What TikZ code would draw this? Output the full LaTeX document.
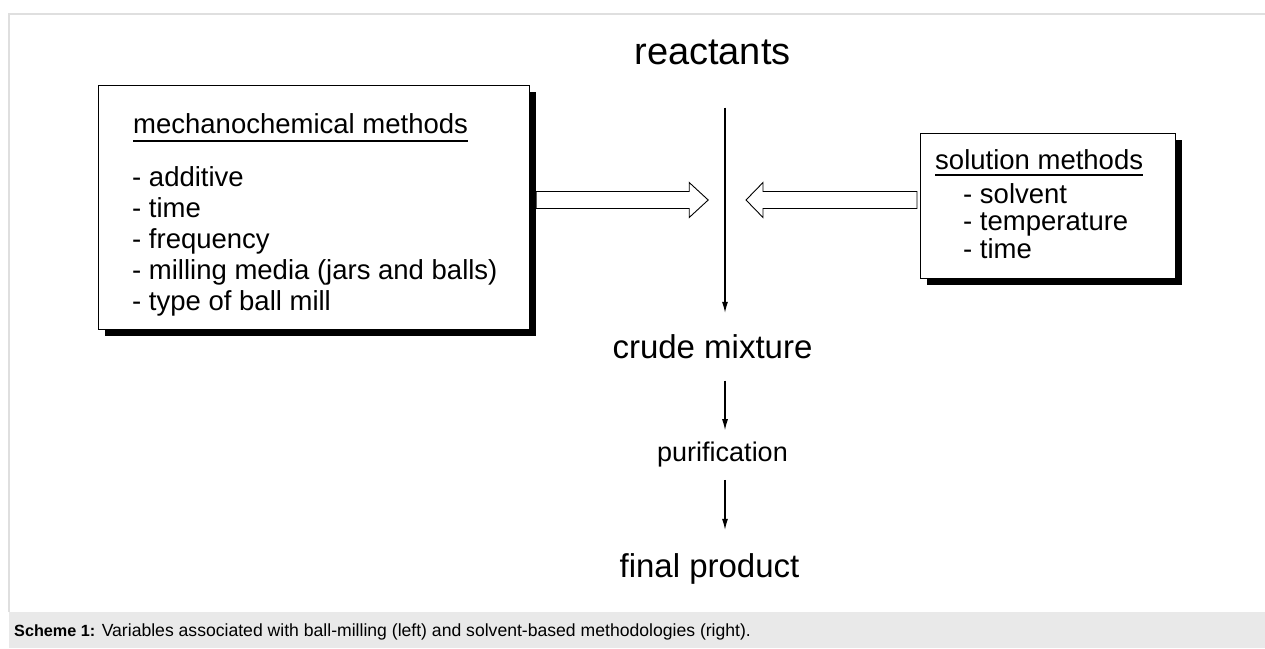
\documentclass[tikz,border=0pt]{standalone}
\usepackage{fontspec}
\setmainfont{Liberation Sans}
\usetikzlibrary{arrows.meta,calc,shadows}

\begin{document}
\begin{tikzpicture}[x=1pt, y=-1pt,
	big/.style={inner sep=0, anchor=base, font=\fontsize{33}{38}\selectfont},
	boxtext/.style={inner sep=0, anchor=base west, font=\fontsize{27.5}{31}\selectfont},
	varbox/.style={draw, line width=1.2pt, fill=white, inner sep=0, anchor=north west,
		drop shadow={shadow xshift=6pt, shadow yshift=-6pt, fill=black, opacity=1}},
	flow/.style={line width=1.2pt, -{Latex[length=11pt,width=6pt]}},
	fat/.style={draw, line width=0.9pt, fill=white, line join=miter}]

	\useasboundingbox (0,0) rectangle (1265,648);
	\fill[gray!17] (9,612) rectangle (1265,648);
	\draw[gray!25, line width=1.5pt] (9,612) -- (9,14) -- (1265,14);

	\node[big, font=\fontsize{38}{44}\selectfont] (reactants) at (712.5,64) {reactants};
	\node[big] (crude) at (712.5,358) {crude mixture};
	\node[big, font=\fontsize{27}{31}\selectfont] (purif) at (722.5,461) {purification};
	\node[big] (final) at (709.5,577) {final product};

	\coordinate (axis) at (725,200);

	\draw[flow, shorten <=43pt, shorten >=21pt] (reactants.south -| axis) -- (crude.north -| axis);
	\draw[flow, shorten <=22pt, shorten >=11pt] (crude.south -| axis) -- (purif.north -| axis);
	\draw[flow, shorten <=13pt, shorten >=23pt] (purif.south -| axis) -- (final.north -| axis);

	% ball milling
	\node[varbox, minimum width=431pt, minimum height=244pt] (mech) at (98,85) {};
	\node[boxtext] (mechtitle) at ($(mech.north west)+(35,48)$) {mechanochemical methods};
	\draw[line width=2.5pt] ($(mechtitle.base west)+(0,8)$) -- ($(mechtitle.base east)+(0,8)$);
	\foreach \v [count=\i] in {additive, time, frequency, milling media (jars and balls), type of ball mill}
		\node[boxtext] (mechvar\i) at ($(mech.north west)+(34,70+31*\i)$) {- \v};

	% solution
	\node[varbox, minimum width=255pt, minimum height=145pt] (soln) at (920,133) {};
	\node[boxtext] (solntitle) at ($(soln.north west)+(15,36)$) {solution methods};
	\draw[line width=2.5pt] ($(solntitle.base west)+(0,6)$) -- ($(solntitle.base east)+(0,6)$);
	\foreach \v [count=\i] in {solvent, temperature, time}
		\node[boxtext] (solnvar\i) at ($(soln.north west)+(43,42.5+27.5*\i)$) {- \v};

	\draw[fat] ($(mech.east |- axis)+(6,0)$) -- ++(0,-8.5) -- ++(153,0) -- ++(0,-9) -- ++(19,17.5)
		-- ++(-19,17.5) -- ++(0,-9) -- ++(-153,0) -- cycle;
	\draw[fat] ($(soln.west |- axis)+(-3,0)$) -- ++(0,-8.5) -- ++(-154,0) -- ++(0,-9) -- ++(-17,17.5)
		-- ++(17,17.5) -- ++(0,-9) -- ++(154,0) -- cycle;

	\node[anchor=base west, inner sep=0, font=\fontsize{17.6}{20}\selectfont] (caption) at (14,636)
		{{\fontsize{16.2}{20}\selectfont\bfseries Scheme 1:} Variables associated with ball-milling (left) and solvent-based methodologies (right).};

\end{tikzpicture}
\end{document}
